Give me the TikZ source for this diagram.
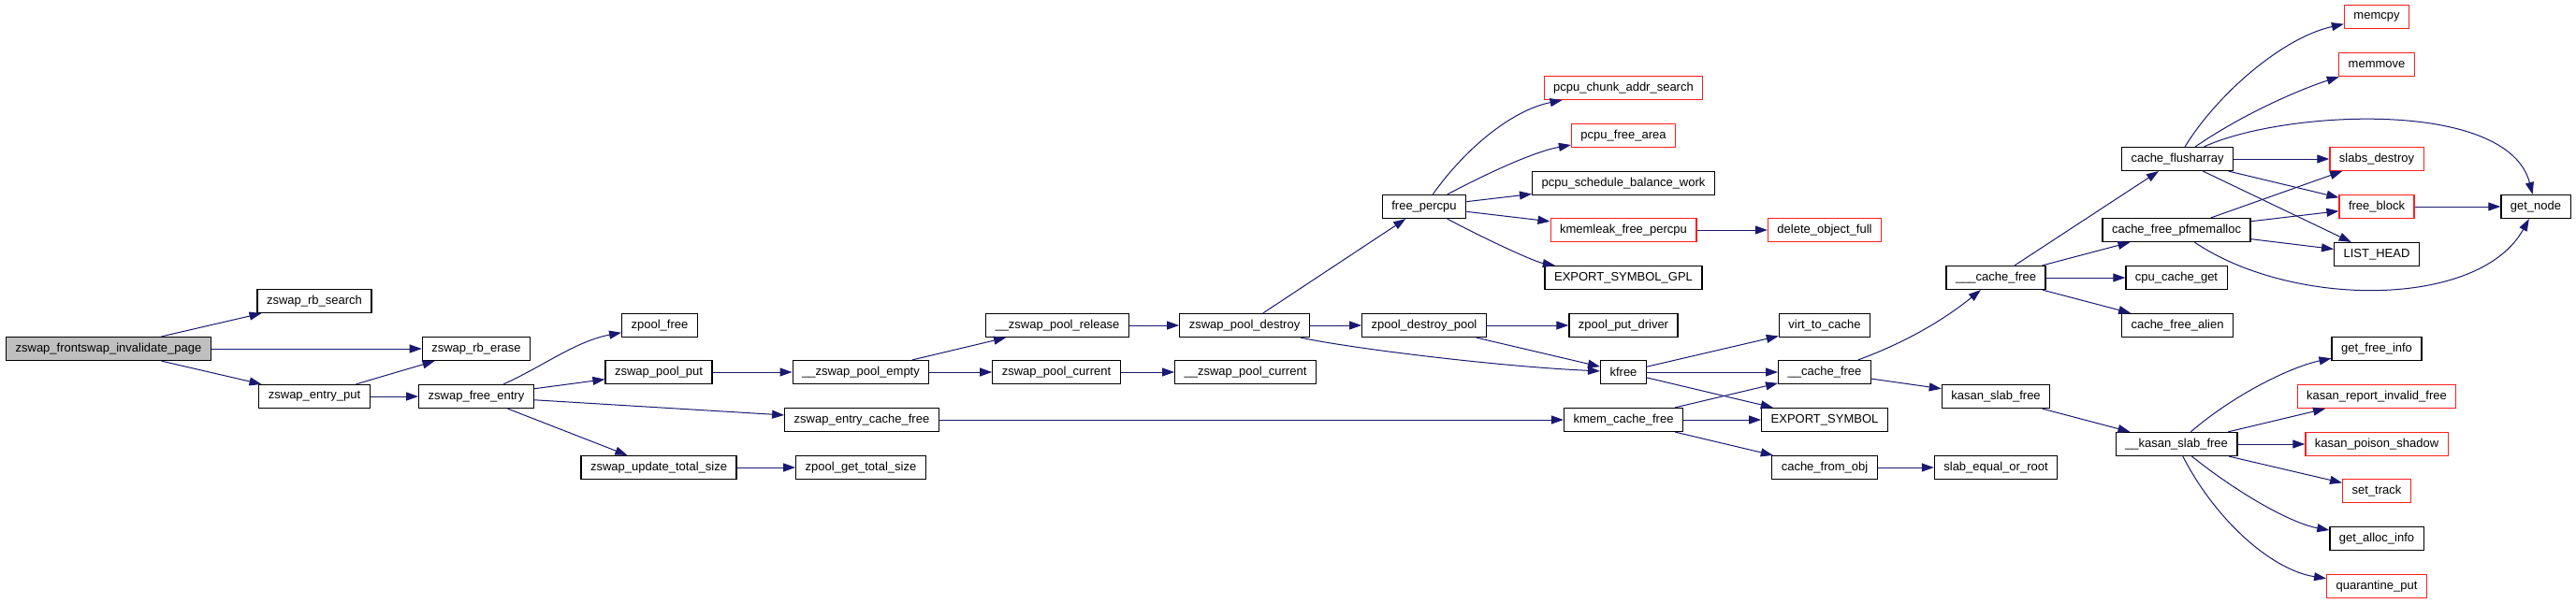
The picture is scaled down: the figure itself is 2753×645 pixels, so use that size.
\documentclass[tikz,border=0pt]{standalone}
\usepackage{fontspec}
\setmainfont{Liberation Sans}
\usepackage{xcolor}
\usepackage{tikz}
\usetikzlibrary{arrows.meta}
\definecolor{edgeblue}{RGB}{25,25,112}
\definecolor{rootgray}{RGB}{191,191,191}
\definecolor{extred}{RGB}{255,30,30}
\newcommand{\cgfont}{\fontsize{13}{15}\selectfont}
\tikzset{
  func/.style={draw=black, line width=1.2pt, fill=white, font=\cgfont,
    inner xsep=10pt, inner ysep=0pt, minimum height=25pt},
  funcroot/.style={func, fill=rootgray},
  funcext/.style={func, draw=extred},
  callflow/.style={draw=edgeblue, line width=1pt, -{Triangle[length=13pt,width=9pt]}}
}

\begin{document}
\begin{tikzpicture}[x=1pt, y=-1pt]
  \fill[white] (0,0) rectangle (2753,645);
  \useasboundingbox (0,0) rectangle (2753,645);

  % zswap side
  \node[funcroot] (root) at (116,373) {zswap\_frontswap\_invalidate\_page};
  \node[func] (rbsearch) at (336,322) {zswap\_rb\_search};
  \node[func] (rberase) at (509,373) {zswap\_rb\_erase};
  \node[func] (entryput) at (336,424) {zswap\_entry\_put};
  \node[func] (freeentry) at (509,424) {zswap\_free\_entry};
  \node[func] (zpoolfree) at (705,348) {zpool\_free};
  \node[func] (poolput) at (704,398) {zswap\_pool\_put};
  \node[func] (entrycache) at (921,449) {zswap\_entry\_cache\_free};
  \node[func] (updtotal) at (704,500) {zswap\_update\_total\_size};
  \node[func] (gettotal) at (920,500) {zpool\_get\_total\_size};
  \node[func] (poolempty) at (920,398) {\_\_zswap\_pool\_empty};
  \node[func] (poolrelease) at (1130,348) {\_\_zswap\_pool\_release};
  \node[func] (poolcurrent) at (1129,398) {zswap\_pool\_current};
  \node[func] (upoolcurrent) at (1331,398) {\_\_zswap\_pool\_current};
  \node[func] (pooldestroy) at (1330,348) {zswap\_pool\_destroy};
  \node[func] (destroypool) at (1522,348) {zpool\_destroy\_pool};
  \node[func] (putdriver) at (1735,348) {zpool\_put\_driver};

  % percpu
  \node[func] (freepercpu) at (1522,221) {free\_percpu};
  \node[funcext] (chunksearch) at (1735,94) {pcpu\_chunk\_addr\_search};
  \node[funcext] (freearea) at (1735,145) {pcpu\_free\_area};
  \node[func] (balancework) at (1735,196) {pcpu\_schedule\_balance\_work};
  \node[funcext] (kmemleak) at (1735,246) {kmemleak\_free\_percpu};
  \node[funcext] (deleteobj) at (1950,246) {delete\_object\_full};
  \node[func] (exportgpl) at (1735,297) {EXPORT\_SYMBOL\_GPL};

  % slab
  \node[func] (kfree) at (1735,398) {kfree};
  \node[func] (kmemcachefree) at (1735,449) {kmem\_cache\_free};
  \node[func] (virtcache) at (1950,348) {virt\_to\_cache};
  \node[func] (ucachefree) at (1950,398) {\_\_cache\_free};
  \node[func] (exportsym) at (1950,449) {EXPORT\_SYMBOL};
  \node[func] (cachefromobj) at (1950,500) {cache\_from\_obj};
  \node[func] (uucachefree) at (2133,297) {\_\_\_cache\_free};
  \node[func] (kasanslab) at (2133,424) {kasan\_slab\_free};
  \node[func] (slabequal) at (2133,500) {slab\_equal\_or\_root};
  \node[func] (flusharray) at (2327,170) {cache\_flusharray};
  \node[func] (pfmemalloc) at (2326,246) {cache\_free\_pfmemalloc};
  \node[func] (cpucacheget) at (2326,297) {cpu\_cache\_get};
  \node[func] (freealien) at (2327,348) {cache\_free\_alien};
  \node[func] (ukasanslab) at (2326,475) {\_\_kasan\_slab\_free};
  \node[funcext] (memcpy) at (2540,18) {memcpy};
  \node[funcext] (memmove) at (2540,69) {memmove};
  \node[funcext] (slabsdestroy) at (2540,170) {slabs\_destroy};
  \node[funcext] (freeblock) at (2540,221) {free\_block};
  \node[func] (listhead) at (2540,272) {LIST\_HEAD};
  \node[func] (getnode) at (2710,221) {get\_node};

  % kasan
  \node[func] (getfreeinfo) at (2540,373) {get\_free\_info};
  \node[funcext] (reportinvalid) at (2540,424) {kasan\_report\_invalid\_free};
  \node[funcext] (poisonshadow) at (2540,475) {kasan\_poison\_shadow};
  \node[funcext] (settrack) at (2540,525) {set\_track};
  \node[func] (getallocinfo) at (2540,576) {get\_alloc\_info};
  \node[funcext] (quarantine) at (2540,627) {quarantine\_put};

  % calls
  \draw[callflow] (root) -- (rbsearch);
  \draw[callflow] (root) -- (rberase);
  \draw[callflow] (root) -- (entryput);
  \draw[callflow] (entryput) -- (rberase);
  \draw[callflow] (entryput) -- (freeentry);
  \draw[callflow] (freeentry) .. controls (580,392) and (615,365) .. (zpoolfree);
  \draw[callflow] (freeentry) -- (poolput);
  \draw[callflow] (freeentry) -- (entrycache);
  \draw[callflow] (freeentry) -- (updtotal);
  \draw[callflow] (poolput) -- (poolempty);
  \draw[callflow] (poolempty) -- (poolrelease);
  \draw[callflow] (poolempty) -- (poolcurrent);
  \draw[callflow] (poolcurrent) -- (upoolcurrent);
  \draw[callflow] (poolrelease) -- (pooldestroy);
  \draw[callflow] (updtotal) -- (gettotal);
  \draw[callflow] (entrycache) -- (kmemcachefree);
  \draw[callflow] (pooldestroy) -- (freepercpu);
  \draw[callflow] (pooldestroy) -- (destroypool);
  \draw[callflow] (pooldestroy) .. controls (1440,372) and (1600,392) .. (kfree);
  \draw[callflow] (destroypool) -- (putdriver);
  \draw[callflow] (destroypool) -- (kfree);
  \draw[callflow] (freepercpu) .. controls (1565,160) and (1615,118) .. (chunksearch);
  \draw[callflow] (freepercpu) .. controls (1590,185) and (1640,162) .. (freearea);
  \draw[callflow] (freepercpu) -- (balancework);
  \draw[callflow] (freepercpu) -- (kmemleak);
  \draw[callflow] (freepercpu) .. controls (1590,257) and (1640,280) .. (exportgpl);
  \draw[callflow] (kmemleak) -- (deleteobj);
  \draw[callflow] (kfree) -- (virtcache);
  \draw[callflow] (kfree) -- (ucachefree);
  \draw[callflow] (kfree) -- (exportsym);
  \draw[callflow] (kmemcachefree) -- (ucachefree);
  \draw[callflow] (kmemcachefree) -- (exportsym);
  \draw[callflow] (kmemcachefree) -- (cachefromobj);
  \draw[callflow] (cachefromobj) -- (slabequal);
  \draw[callflow] (ucachefree) .. controls (2040,365) and (2080,340) .. (uucachefree);
  \draw[callflow] (ucachefree) -- (kasanslab);
  \draw[callflow] (uucachefree) -- (flusharray);
  \draw[callflow] (uucachefree) -- (pfmemalloc);
  \draw[callflow] (uucachefree) -- (cpucacheget);
  \draw[callflow] (uucachefree) -- (freealien);
  \draw[callflow] (flusharray) .. controls (2370,100) and (2440,40) .. (memcpy);
  \draw[callflow] (flusharray) .. controls (2400,120) and (2460,95) .. (memmove);
  \draw[callflow] (flusharray) -- (slabsdestroy);
  \draw[callflow] (flusharray) -- (freeblock);
  \draw[callflow] (flusharray) -- (listhead);
  \draw[callflow] (flusharray) .. controls (2440,118) and (2680,105) .. (getnode);
  \draw[callflow] (pfmemalloc) -- (slabsdestroy);
  \draw[callflow] (pfmemalloc) -- (freeblock);
  \draw[callflow] (pfmemalloc) -- (listhead);
  \draw[callflow] (pfmemalloc) .. controls (2450,330) and (2650,330) .. (getnode);
  \draw[callflow] (freeblock) -- (getnode);
  \draw[callflow] (kasanslab) -- (ukasanslab);
  \draw[callflow] (ukasanslab) .. controls (2390,420) and (2450,392) .. (getfreeinfo);
  \draw[callflow] (ukasanslab) -- (reportinvalid);
  \draw[callflow] (ukasanslab) -- (poisonshadow);
  \draw[callflow] (ukasanslab) -- (settrack);
  \draw[callflow] (ukasanslab) .. controls (2395,530) and (2450,560) .. (getallocinfo);
  \draw[callflow] (ukasanslab) .. controls (2370,560) and (2430,610) .. (quarantine);
\end{tikzpicture}
\end{document}
